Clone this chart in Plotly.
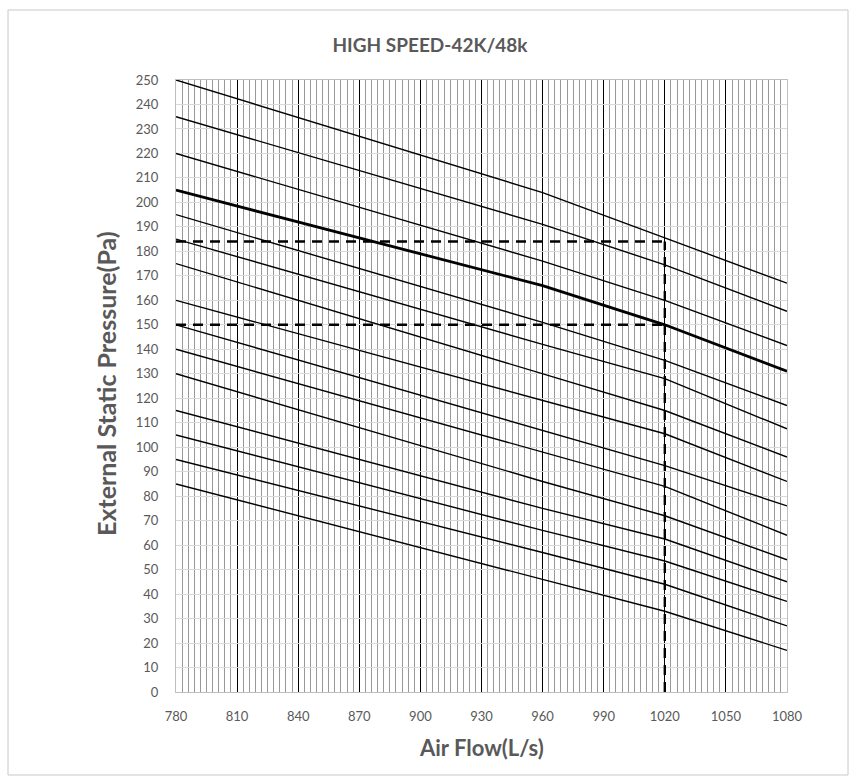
import plotly.graph_objects as go

# ---- data ----
airflow_pts = [780, 960, 1020, 1080]
curves = [
    [250, 204, 185.5, 167],
    [235, 191, 174.5, 155.5],
    [220, 176, 160, 141.5],
    [205, 166, 150, 131],     # bold curve
    [195, 151, 135.5, 117],
    [185, 142, 128, 107.5],
    [175, 130, 115, 96],
    [160, 119, 105.5, 86],
    [150, 107, 92.5, 76],
    [140, 98, 84, 64],
    [130, 86, 72, 54],
    [115, 75, 62.5, 45],
    [105, 66, 53.5, 37],
    [95, 57, 44, 27],
    [85, 46, 33, 17],
]
bold_index = 3
guide_pressures = [184, 150]
guide_airflow = 1020
x_ticks = [780, 810, 840, 870, 900, 930, 960, 990, 1020, 1050, 1080]
y_ticks = list(range(0, 251, 10))

title_text = "HIGH SPEED-42K/48k"
x_title = "Air Flow(L/s)"
y_title = "External Static Pressure(Pa)"

FONT = "Lato, Open Sans, sans-serif"
GREY_TXT = "#595959"

fig = go.Figure()

for i, c in enumerate(curves):
    fig.add_trace(go.Scatter(
        x=airflow_pts, y=c, mode="lines",
        line=dict(color="black", width=2.8 if i == bold_index else 1.4),
        showlegend=False, hoverinfo="skip"))

for p in guide_pressures:
    fig.add_trace(go.Scatter(
        x=[x_ticks[0], guide_airflow], y=[p, p], mode="lines",
        line=dict(color="black", width=2.4, dash="10px,7px"),
        showlegend=False, hoverinfo="skip"))
fig.add_trace(go.Scatter(
    x=[guide_airflow, guide_airflow], y=[0, max(guide_pressures)], mode="lines",
    line=dict(color="black", width=2.4, dash="10px,7px"),
    showlegend=False, hoverinfo="skip"))

L, R, T, B = 176, 70, 80, 90
W, H = 857, 782
pw, ph = W - L - R, H - T - B

def px_x(px):
    return (px - L) / pw

def px_y(py):
    return (H - B - py) / ph

fig.update_layout(
    width=W, height=H,
    margin=dict(l=L, r=R, t=T, b=B),
    paper_bgcolor="white", plot_bgcolor="white",
    font=dict(family=FONT, color=GREY_TXT),
    title=dict(text=f"<b>{title_text}</b>", xref="container", yref="container",
               x=430 / W, y=1 - 45 / H, xanchor="center", yanchor="middle",
               font=dict(size=19, family=FONT, color=GREY_TXT)),
    xaxis=dict(range=[x_ticks[0], x_ticks[-1]], tickvals=x_ticks,
               showgrid=True, gridcolor="black", gridwidth=1,
               minor=dict(dtick=3, tick0=780, showgrid=True, gridcolor="#999999", gridwidth=1, ticks=""),
               showline=True, linecolor="#bfbfbf", linewidth=1, mirror=True,
               ticks="", zeroline=False, ticklabelstandoff=12,
               tickfont=dict(size=13, family=FONT, color=GREY_TXT)),
    yaxis=dict(range=[0, 250], tickvals=y_ticks,
               showgrid=True, gridcolor="#d9d9d9", gridwidth=1,
               showline=True, linecolor="#bfbfbf", linewidth=1, mirror=True,
               ticks="", zeroline=False, ticklabelstandoff=14,
               tickfont=dict(size=13, family=FONT, color=GREY_TXT)),
    annotations=[
        dict(text=f"<b>{x_title}</b>", xref="paper", yref="paper",
             x=px_x(481), y=px_y(748), xanchor="center", yanchor="middle",
             showarrow=False, font=dict(size=22, family=FONT, color=GREY_TXT)),
        dict(text=f"<b>{y_title}</b>", xref="paper", yref="paper",
             x=px_x(106), y=px_y(384), xanchor="center", yanchor="middle",
             textangle=-90, showarrow=False,
             font=dict(size=25, family=FONT, color=GREY_TXT)),
    ],
    shapes=[
        dict(type="rect", xref="paper", yref="paper",
             x0=px_x(8), x1=px_x(848), y0=px_y(775), y1=px_y(10),
             line=dict(color="#c8c8c8", width=1), fillcolor="rgba(0,0,0,0)",
             layer="below"),
    ],
)

fig.write_html("out.html")
